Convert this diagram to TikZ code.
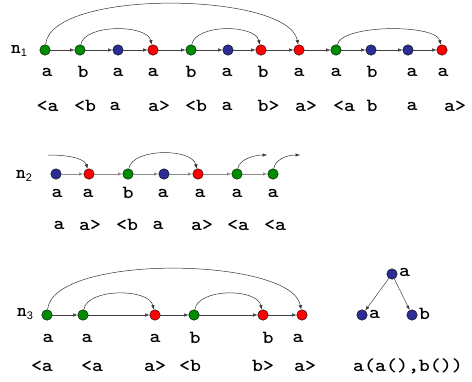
\documentclass[tikz,border=0pt]{standalone}
\usepackage{fontspec}
\newfontfamily\subfont{Liberation Sans}
\usetikzlibrary{arrows.meta}
\definecolor{ngreen}{RGB}{0,140,0}
\definecolor{nblue}{RGB}{45,45,150}
\definecolor{nred}{RGB}{255,0,0}
\tikzset{
  dot/.style={circle,draw=black,line width=0.4pt,inner sep=0pt,minimum size=10.5pt},
  gdot/.style={dot,fill=ngreen},
  bdot/.style={dot,fill=nblue},
  rdot/.style={dot,fill=nred},
  lbl/.style={font=\fontsize{18.5}{20}\selectfont\ttfamily\bfseries,inner sep=0pt},
  nlbl/.style={font=\fontsize{18.5}{20}\selectfont\ttfamily\bfseries,inner sep=0pt},
  tip/.style={-{Latex[length=4.5pt,width=3.5pt]}},
  link/.style={tip,draw=black!75,line width=0.5pt},
  glink/.style={tip,draw=black!45,line width=0.9pt},
  arc/.style={tip,draw=black!80,line width=0.5pt}
}
% monospaced labels, slightly widened
\newcommand{\tx}[1]{\scalebox{1.13}[1]{#1}}
\newcommand{\nname}[1]{n\raisebox{-0.35ex}{\subfont\fontsize{11}{12}\selectfont\mdseries #1}}
\begin{document}
\begin{tikzpicture}[x=1pt,y=-1pt]
\useasboundingbox (0,0) rectangle (472,381);

% ---- first sequence
\node[nlbl] (n1) at (19,51) {\nname{1}};
\node[gdot] (a1) at (45,50) {};
\node[gdot] (a2) at (80,50) {};
\node[bdot] (a3) at (118,50) {};
\node[rdot] (a4) at (153,50) {};
\node[gdot] (a5) at (191,50) {};
\node[bdot] (a6) at (228,50) {};
\node[rdot] (a7) at (261,50) {};
\node[rdot] (a8) at (299,50) {};
\node[gdot] (a9) at (336,50) {};
\node[bdot] (a10) at (371,50) {};
\node[bdot] (a11) at (408,50) {};
\node[rdot] (a12) at (442,50) {};
\foreach \p/\q in {a1/a2,a2/a3,a3/a4,a4/a5,a5/a6,a6/a7,a7/a8,a8/a9,a9/a10,a10/a11,a11/a12}
  \draw[link] (\p) -- (\q);
\draw[arc] (a1) .. controls +(6,-62) and +(-10,-58) .. (a8);
\draw[arc] (a2) .. controls +(4,-26) and +(-6,-26) .. (a4);
\draw[arc] (a5) .. controls +(4,-26) and +(-6,-26) .. (a7);
\draw[arc] (a9) .. controls +(6,-26) and +(-6,-26) .. (a12);

\foreach \x/\t [count=\i] in {47/a,83/b,118/a,153/a,191/b,227/a,263/b,299/a,336/a,372/b,412/a,443/a}
  \node[lbl] (l1\i) at (\x,72) {\tx{\t}};
\foreach \x/\t [count=\i] in {47.5/<a,85/<b,115/a,159/a>,196/<b,227/a,268.5/b>,306/a>,344/<a,372/b,412/a,455/a>}
  \node[lbl] (s1\i) at (\x,106) {\tx{\t}};

% ---- second sequence
\node[nlbl] (n2) at (24,176) {\nname{2}};
\node[bdot] (b1) at (56,174) {};
\node[rdot] (b2) at (89,174) {};
\node[gdot] (b3) at (128,174) {};
\node[bdot] (b4) at (164,174) {};
\node[rdot] (b5) at (198,174) {};
\node[gdot] (b6) at (237,174) {};
\node[gdot] (b7) at (273,174) {};
\foreach \p/\q in {b1/b2,b2/b3,b3/b4,b4/b5,b5/b6,b6/b7}
  \draw[glink] (\p) -- (\q);
\coordinate (bin) at (48,155);
\coordinate (bout1) at (267,155);
\coordinate (bout2) at (300,155);
\draw[arc] (bin) .. controls +(26,0) and +(-4,-14) .. (b2);
\draw[arc] (b3) .. controls +(4,-26) and +(-6,-26) .. (b5);
\draw[arc] (b6) .. controls +(2,-14) and +(-14,0) .. (bout1);
\draw[arc] (b7) .. controls +(2,-14) and +(-14,0) .. (bout2);

\foreach \x/\t [count=\i] in {57/a,88/a,128/b,163/a,200/a,237/a,273/a}
  \node[lbl] (l2\i) at (\x,193) {\tx{\t}};
\foreach \x/\t [count=\i] in {59/a,90/a>,127/<b,158/a,202/a>,238/<a,275/<a}
  \node[lbl] (s2\i) at (\x,225) {\tx{\t}};

% ---- third sequence
\node[nlbl] (n3) at (25,314) {\nname{3}};
\node[gdot] (c1) at (47,315) {};
\node[gdot] (c2) at (83,315) {};
\node[rdot] (c3) at (155,315) {};
\node[gdot] (c4) at (194,315) {};
\node[rdot] (c5) at (263,315) {};
\node[rdot] (c6) at (302,315) {};
\foreach \p/\q in {c1/c2,c2/c3,c3/c4,c4/c5,c5/c6}
  \draw[link] (\p) -- (\q);
\draw[arc] (c1) .. controls +(6,-62) and +(-10,-58) .. (c6);
\draw[arc] (c2) .. controls +(4,-27) and +(-6,-27) .. (c3);
\draw[arc] (c4) .. controls +(4,-27) and +(-6,-27) .. (c5);

\foreach \x/\t [count=\i] in {48/a,87/a,155/a,195/b,268/b,298/a}
  \node[lbl] (l3\i) at (\x,338) {\tx{\t}};
\foreach \x/\t [count=\i] in {42/<a,92/<a,155/a>,190/<b,263/b>,305/a>}
  \node[lbl] (s3\i) at (\x,366) {\tx{\t}};

% ---- tree
\node[bdot] (t0) at (392,274) {};
\node[bdot] (t1) at (362,315) {};
\node[bdot] (t2) at (412,315) {};
\draw[link] (t0) -- (t1);
\draw[link] (t0) -- (t2);
\node[lbl,anchor=west] (tl0) at (399,272) {\tx{a}};
\node[lbl,anchor=west] (tl1) at (369,314) {\tx{a}};
\node[lbl,anchor=west] (tl2) at (419,314) {\tx{b}};
\node[lbl] (term) at (408,366) {\tx{a(a(),b())}};
\end{tikzpicture}
\end{document}
